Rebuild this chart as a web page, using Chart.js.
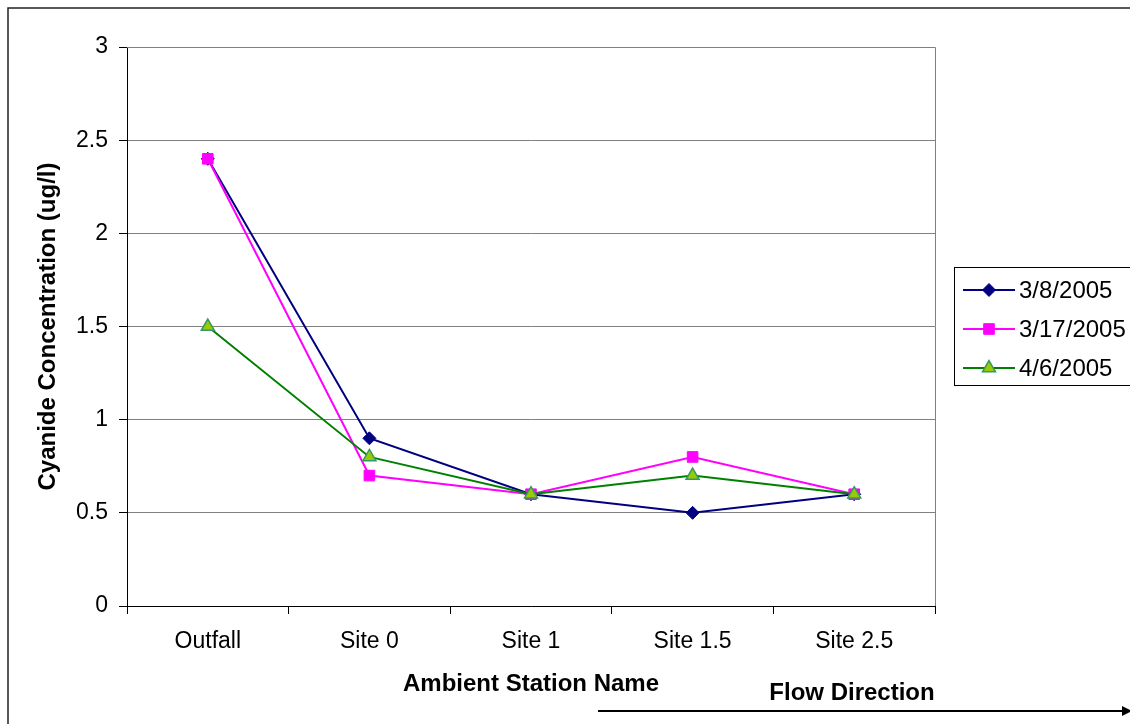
<!DOCTYPE html>
<html>
<head>
<meta charset="utf-8">
<title>Cyanide Concentration by Ambient Station</title>
<script src="https://cdn.jsdelivr.net/npm/chart.js@4/dist/chart.umd.min.js"></script>
<style>
  html, body { margin: 0; padding: 0; background: #fff; }
  canvas { display: block; }
</style>
</head>
<body>
<canvas id="chart" width="1130" height="724"></canvas>
<script>
// Stations, in downstream order
const stations = ['Outfall', 'Site 0', 'Site 1', 'Site 1.5', 'Site 2.5'];

// Sampling dates
const sampleDates = ['3/8/2005', '3/17/2005', '4/6/2005'];

// Cyanide concentration (ug/l) per sampling date
const march8 = [2.4, 0.9, 0.6, 0.5, 0.6];
const march17 = [2.4, 0.7, 0.6, 0.8, 0.6];
const april6 = [1.5, 0.8, 0.6, 0.7, 0.6];

// Y axis range and tick labels
const yMin = 0;
const yMax = 3;
const yStep = 0.5;
const yTickLabels = ['0', '0.5', '1', '1.5', '2', '2.5', '3'];

const FONT = '"Liberation Sans", Arial, Helvetica, sans-serif';

const seriesStyles = [
  { line: '#000080', fill: '#000080', border: '#000080', point: 'rectRot', radius: 6.5 },
  { line: '#ff00ff', fill: '#ff00ff', border: '#ff00ff', point: 'rect', radius: 7.5 },
  { line: '#008000', fill: '#99cc00', border: '#339966', point: 'triangle', radius: 7.5 }
];
const seriesValues = [march8, march17, april6];

const datasets = sampleDates.map((label, i) => ({
  label: label,
  data: seriesValues[i],
  borderColor: seriesStyles[i].line,
  backgroundColor: seriesStyles[i].fill,
  pointBackgroundColor: seriesStyles[i].fill,
  pointBorderColor: seriesStyles[i].border,
  pointBorderWidth: i === 2 ? 1.5 : 1,
  pointStyle: seriesStyles[i].point,
  pointRadius: seriesStyles[i].radius,
  pointHoverRadius: seriesStyles[i].radius,
  borderWidth: 2,
  tension: 0,
  order: sampleDates.length - 1 - i
}));

// Frame, plot border, legend box and flow arrow
const decorations = {
  id: 'decorations',
  beforeDatasetsDraw(chart) {
    const { ctx, chartArea } = chart;
    ctx.save();
    ctx.strokeStyle = '#808080';
    ctx.lineWidth = 1;
    ctx.beginPath();
    ctx.moveTo(chartArea.left, chartArea.top + 0.5);
    ctx.lineTo(chartArea.right + 0.5, chartArea.top + 0.5);
    ctx.lineTo(chartArea.right + 0.5, chartArea.bottom);
    ctx.stroke();
    ctx.restore();
  },
  afterDraw(chart) {
    const { ctx } = chart;
    ctx.save();

    // outer frame (left and top edges)
    ctx.strokeStyle = '#222';
    ctx.lineWidth = 1.5;
    ctx.beginPath();
    ctx.moveTo(8, 724);
    ctx.lineTo(8, 8);
    ctx.lineTo(1130, 8);
    ctx.stroke();

    // legend
    const lx = 954.5, ly = 267.5, lw = 190, lh = 118;
    ctx.strokeStyle = '#000';
    ctx.lineWidth = 1;
    ctx.strokeRect(lx, ly, lw, lh);
    const rowY = [290, 329, 368];
    chart.data.datasets.forEach((ds, i) => {
      const y = rowY[i];
      ctx.strokeStyle = ds.borderColor;
      ctx.lineWidth = 2;
      ctx.beginPath();
      ctx.moveTo(963, y);
      ctx.lineTo(1015, y);
      ctx.stroke();
      ctx.fillStyle = ds.pointBackgroundColor;
      ctx.strokeStyle = ds.pointBorderColor;
      ctx.lineWidth = ds.pointBorderWidth;
      Chart.helpers.drawPoint(ctx, {
        pointStyle: ds.pointStyle,
        radius: ds.pointRadius,
        rotation: 0,
        borderWidth: ds.pointBorderWidth
      }, 989, y);
      ctx.fillStyle = '#000';
      ctx.font = '24px ' + FONT;
      ctx.textAlign = 'left';
      ctx.textBaseline = 'middle';
      ctx.fillText(ds.label, 1019, y + 1);
    });

    // flow direction label and arrow
    ctx.fillStyle = '#000';
    ctx.font = 'bold 24px ' + FONT;
    ctx.textAlign = 'center';
    ctx.textBaseline = 'middle';
    ctx.fillText('Flow Direction', 852, 693);
    ctx.strokeStyle = '#000';
    ctx.lineWidth = 2;
    ctx.beginPath();
    ctx.moveTo(598, 711);
    ctx.lineTo(1124, 711);
    ctx.stroke();
    ctx.beginPath();
    ctx.moveTo(1132, 711);
    ctx.lineTo(1122, 706);
    ctx.lineTo(1122, 716);
    ctx.closePath();
    ctx.fill();

    ctx.restore();
  }
};

new Chart(document.getElementById('chart'), {
  type: 'line',
  data: { labels: stations, datasets: datasets },
  options: {
    responsive: false,
    animation: false,
    devicePixelRatio: 1,
    layout: { padding: { top: 47, right: 195, left: 0, bottom: 0 } },
    plugins: {
      legend: { display: false },
      tooltip: { enabled: false }
    },
    scales: {
      x: {
        type: 'category',
        offset: true,
        grid: {
          offset: true,
          display: true,
          drawOnChartArea: false,
          tickLength: 8,
          tickColor: '#000',
          color: '#000'
        },
        border: { display: true, color: '#000', width: 1 },
        ticks: {
          color: '#000',
          padding: 14,
          maxRotation: 0,
          autoSkip: false,
          font: { family: FONT, size: 23 }
        },
        title: {
          display: true,
          text: 'Ambient Station Name',
          color: '#000',
          font: { family: FONT, size: 24, weight: 'bold' },
          padding: { top: 0, bottom: 25 }
        },
        afterFit(scale) { scale.height = 118; }
      },
      y: {
        min: yMin,
        max: yMax,
        grid: {
          color: '#808080',
          lineWidth: 1,
          tickLength: 8,
          tickColor: '#000'
        },
        border: { display: true, color: '#000', width: 1 },
        ticks: {
          stepSize: yStep,
          color: '#000',
          padding: 11,
          font: { family: FONT, size: 23 },
          callback: (value, index) => yTickLabels[index]
        },
        title: {
          display: true,
          text: 'Cyanide Concentration (ug/l)',
          color: '#000',
          font: { family: FONT, size: 24, weight: 'bold' },
          padding: { top: 34, bottom: 0 }
        },
        afterFit(scale) { scale.width = 127; }
      }
    }
  },
  plugins: [decorations]
});
</script>
</body>
</html>
